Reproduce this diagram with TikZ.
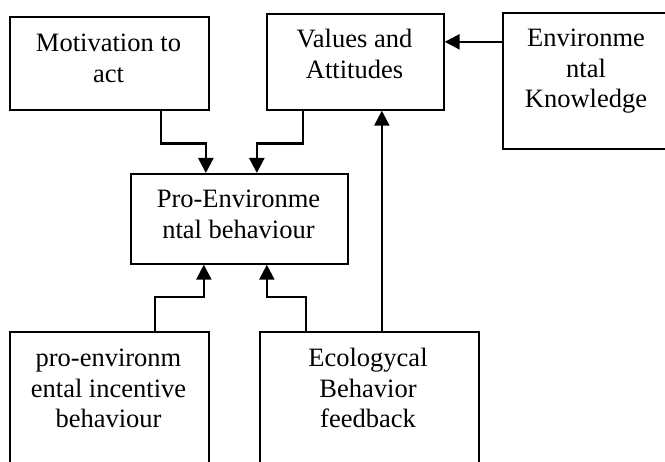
\documentclass[tikz,border=0pt]{standalone}
\usepackage{fontspec}
\setmainfont{Liberation Serif}
\usetikzlibrary{arrows.meta,calc}
\begin{document}
\begin{tikzpicture}[x=1pt,y=-1pt,
  box/.style={draw, line width=1.7pt, rectangle, inner sep=0pt, anchor=north west},
  txt/.style={align=center, inner sep=0pt, anchor=north, font=\fontsize{26.5}{30.5}\selectfont},
  conn/.style={line width=2.4pt, -{Triangle[length=15pt,width=15pt]}}]
\useasboundingbox (0,0) rectangle (665,462);
\clip (0,0) rectangle (665,462);
% boxes
\node[box, minimum width=199pt, minimum height=93pt] (mot) at (9,16) {};
\node[box, minimum width=177pt, minimum height=96pt] (val) at (266,13) {};
\node[box, minimum width=170pt, minimum height=136pt] (env) at (502,12) {};
\node[box, minimum width=217pt, minimum height=90pt] (pro) at (130,173) {};
\node[box, minimum width=199pt, minimum height=150pt] (pen) at (9,331) {};
\node[box, minimum width=219pt, minimum height=150pt] (eco) at (259,331) {};
% texts
\node[txt] (tmot) at (108.5,34) {Motivation to\\act};
\node[txt] (tval) at (354.5,29) {Values and\\Attitudes};
\node[txt] (tenv) at (586,29) {Environme\\ntal\\Knowledge};
\node[txt] (tpro) at (238.5,190) {Pro-Environme\\ntal behaviour};
\node[txt] (tpen) at (108.5,349) {pro-environm\\ental incentive\\behaviour};
\node[txt] (teco) at (368,348) {Ecologycal\\Behavior\\feedback};
% connectors
\draw[conn] ([xshift=51.5pt]mot.south) -- ++(0,33) -| ([xshift=-33.5pt]pro.north);
\draw[conn] ([xshift=-52.5pt]val.south) -- ++(0,33) -| ([xshift=17.5pt]pro.north);
\draw[conn] ([yshift=39pt]env.west) -- ([yshift=39pt]env.west -| val.east);
\draw[conn] ([xshift=12.5pt]eco.north) -- ([xshift=12.5pt]eco.north |- val.south);
\draw[conn] ([xshift=45.5pt]pen.north) -- ++(0,-34) -| ([xshift=-35.5pt]pro.south);
\draw[conn] ([xshift=-63.5pt]eco.north) -- ++(0,-34) -| ([xshift=27.5pt]pro.south);
\end{tikzpicture}
\end{document}
